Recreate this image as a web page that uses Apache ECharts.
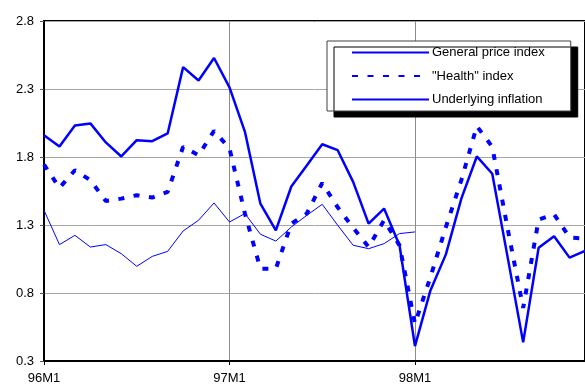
<!DOCTYPE html>
<html>
<head>
<meta charset="utf-8">
<script src="https://cdn.jsdelivr.net/npm/echarts@6/dist/echarts.min.js"></script>
<style>
  html, body { margin: 0; padding: 0; background: #fff; }
  #chart { width: 585px; height: 385px; }
</style>
</head>
<body>
<div id="chart"></div>
<script>
// Monthly periods, 1996M1 to 1998M12
const months = [];
['96', '97', '98'].forEach(function (yr) {
  for (let m = 1; m <= 12; m++) months.push(yr + 'M' + m);
});

const generalIndex = [1.96, 1.877, 2.032, 2.047, 1.907, 1.804, 1.924, 1.916, 1.973, 2.461, 2.363, 2.528,
  2.312, 1.985, 1.457, 1.261, 1.583, 1.737, 1.894, 1.85, 1.617, 1.31, 1.421, 1.151,
  0.409, 0.819, 1.084, 1.494, 1.804, 1.677, 1.06, 0.437, 1.133, 1.217, 1.06, 1.11];

const healthIndex = [1.745, 1.573, 1.703, 1.629, 1.477, 1.494, 1.519, 1.502, 1.543, 1.875, 1.813, 1.992,
  1.863, 1.384, 0.979, 0.979, 1.31, 1.384, 1.609, 1.43, 1.28, 1.138, 1.335, 1.15,
  0.574, 0.917, 1.285, 1.63, 2.027, 1.875, 1.27, 0.69, 1.34, 1.379, 1.208, 1.2];

const underlyingInflation = [1.408, 1.156, 1.224, 1.138, 1.156, 1.089, 0.996, 1.069, 1.106, 1.256, 1.335, 1.462,
  1.322, 1.384, 1.232, 1.182, 1.285, 1.371, 1.452, 1.298, 1.151, 1.126, 1.163, 1.237,
  1.249];

const seriesNames = ['General price index', '"Health" index', 'Underlying inflation'];
const yTicks = { min: 0.3, max: 2.8, step: 0.5 };

const FONT = 'Arial, "Liberation Sans", sans-serif';
const BLUE = '#0000ff';
const isJanuary = function (idx) { return idx % 12 === 0; };

const chart = echarts.init(document.getElementById('chart'), null, { renderer: 'canvas' });

chart.setOption({
  animation: false,
  backgroundColor: '#ffffff',
  textStyle: { fontFamily: FONT },
  grid: {
    left: 44, top: 21, bottom: 24, right: -4.5,
    show: true, borderColor: '#000', borderWidth: 2, backgroundColor: 'transparent'
  },
  legend: {
    orient: 'vertical',
    left: 327, top: 41,
    padding: [5, 26, 5, 24],
    itemWidth: 77, itemHeight: 14, itemGap: 10.5,
    backgroundColor: '#ffffff',
    borderColor: '#404040', borderWidth: 1, borderRadius: 0,
    shadowColor: '#000000', shadowBlur: 0, shadowOffsetX: 7, shadowOffsetY: 6,
    // line-only legend keys: hide the marker drawn on top of each line
    itemStyle: { opacity: 0 },
    textStyle: { fontFamily: FONT, fontSize: 13, color: '#000', padding: [0, 0, 0, -2] },
    selectedMode: false,
    data: seriesNames
  },
  xAxis: {
    type: 'category',
    data: months,
    boundaryGap: false,
    axisLine: { lineStyle: { color: '#000', width: 2 } },
    axisTick: { show: true, interval: isJanuary, length: 4, lineStyle: { color: '#000' } },
    axisLabel: { interval: isJanuary, margin: 11, fontSize: 13, color: '#000', fontFamily: FONT },
    splitLine: { show: true, interval: isJanuary, lineStyle: { color: '#8c8c8c', width: 1 } }
  },
  yAxis: {
    type: 'value',
    min: yTicks.min, max: yTicks.max, interval: yTicks.step,
    axisLine: { show: true, lineStyle: { color: '#000', width: 2 } },
    axisTick: { show: true, length: 4, lineStyle: { color: '#555' } },
    axisLabel: {
      margin: 10, fontSize: 13, color: '#000', fontFamily: FONT,
      formatter: function (v) { return v.toFixed(1); }
    },
    splitLine: { show: true, lineStyle: { color: '#a6a6a6', width: 1 } }
  },
  series: [
    {
      name: seriesNames[0], type: 'line', data: generalIndex,
      symbol: 'none', z: 4,
      lineStyle: { color: BLUE, width: 2.5 }, itemStyle: { color: BLUE }
    },
    {
      name: seriesNames[1], type: 'line', data: healthIndex,
      symbol: 'none', z: 3,
      lineStyle: { color: BLUE, width: 4, type: [6, 9.5] }, itemStyle: { color: BLUE }
    },
    {
      name: seriesNames[2], type: 'line', data: underlyingInflation,
      symbol: 'none', z: 2,
      lineStyle: { color: BLUE, width: 1 }, itemStyle: { color: BLUE }
    }
  ]
});
</script>
</body>
</html>
